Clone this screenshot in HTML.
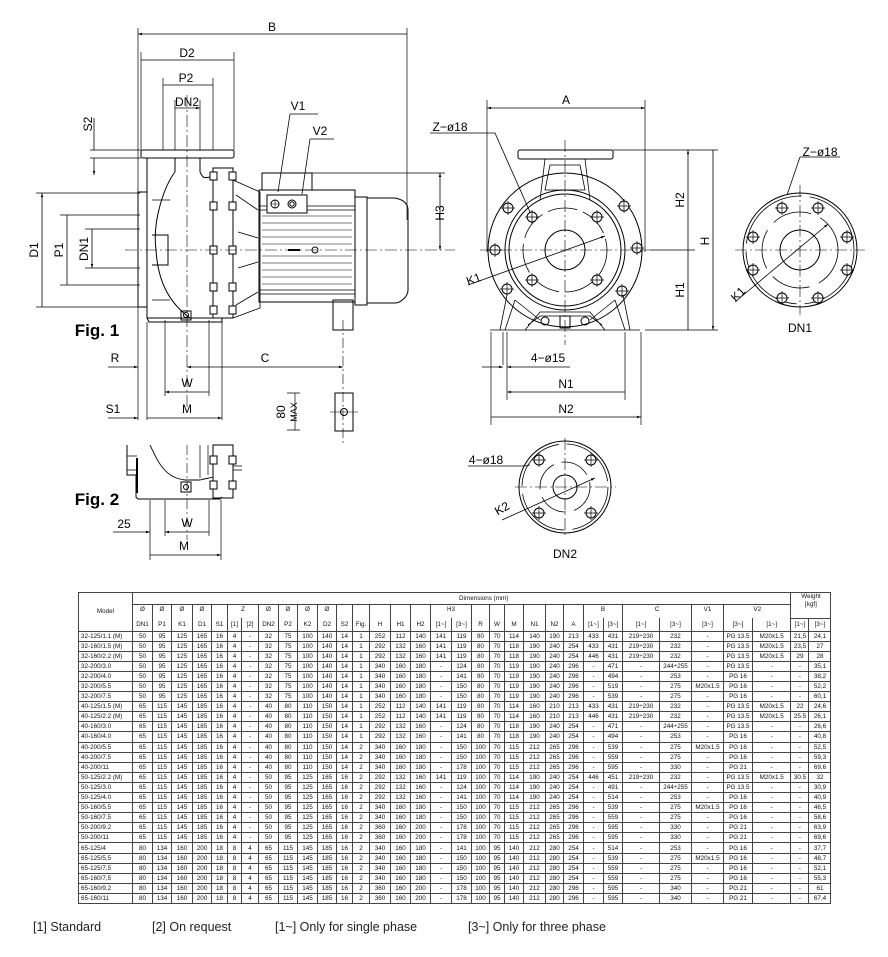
<!DOCTYPE html>
<html><head><meta charset="utf-8">
<style>
html,body{margin:0;padding:0;background:#fff;}
body{width:888px;height:957px;position:relative;overflow:hidden;font-family:"Liberation Sans",Arial,sans-serif;}
svg{position:absolute;left:0;top:0;}
table{position:absolute;left:78px;top:592px;border-collapse:collapse;table-layout:fixed;width:752px;font-size:6.3px;color:#111;}
td{border:1px solid #444;text-align:center;padding:0;white-space:nowrap;overflow:hidden;line-height:9px;height:9.1px;}
td.m{text-align:left;padding-left:2px;}
tr.h1 td{height:11px;}
tr.h2 td{height:13px;border-bottom:none;vertical-align:top;}
tr.h3 td{height:12px;border-top:none;}
.foot{position:absolute;top:920px;font-size:12.5px;color:#222;}
</style></head><body>
<svg width="888" height="590" viewBox="0 0 888 590" font-family="Liberation Sans, Arial, sans-serif">
<defs>
<marker id="a" viewBox="0 0 10 10" refX="10" refY="5" markerWidth="7" markerHeight="5" orient="auto-start-reverse"><path d="M0,2 L10,5 L0,8z" fill="#000"/></marker>
<symbol id="b" viewBox="-7 -7 14 14" overflow="visible"><circle r="5" fill="#fff" stroke="#000" stroke-width="1"/><path d="M-7,0H7M0,-7V7" stroke="#000" stroke-width="0.7"/></symbol>
</defs>
<g stroke="#000" fill="none" stroke-width="1">
<!-- ===== FIG 1 dims ===== -->
<path d="M138,28V420M407,28V220M141,52V150M234,52V150M163,78V150M213,78V150M175,100V150M200,100V150" stroke-width="0.7"/>
<path d="M138,34H407M141,60H234M163,85H213M175,108H200" marker-start="url(#a)" marker-end="url(#a)" stroke-width="0.8"/>
<path d="M90,150H141M90,158H141M36,193H140M60,215H140M85,229H140M85,268H140M60,285H140M36,307H140" stroke-width="0.7"/>
<path d="M94,118V150M94,158V175" marker-end="url(#a)" stroke-width="0.8"/>
<path d="M42,193V307M67,215V285M92,229V268" marker-start="url(#a)" marker-end="url(#a)" stroke-width="0.8"/>
<rect x="141" y="150" width="93" height="8" rx="2"/>
<path d="M147,158V318H213M147,318L149,322H222V318"/>
<path d="M175,158V172M200,158V172M175,172C165,185 152,220 156,250C158,285 172,305 190,318M200,172C205,182 205,175 213,178"/>
<rect x="138" y="192" width="9" height="115"/>
<path d="M152,235H168V265H152" />
<path d="M152,200H170M152,300H170" stroke-width="0.7"/>
<rect x="213" y="168" width="20" height="150"/>
<g fill="#fff"><rect x="210" y="172" width="7" height="8"/><rect x="229" y="172" width="7" height="8"/><rect x="210" y="202" width="7" height="8"/><rect x="229" y="202" width="7" height="8"/><rect x="210" y="246" width="7" height="8"/><rect x="229" y="246" width="7" height="8"/><rect x="210" y="283" width="7" height="8"/><rect x="229" y="283" width="7" height="8"/><rect x="210" y="306" width="7" height="8"/><rect x="229" y="306" width="7" height="8"/></g>
<rect x="181" y="311" width="10" height="9"/><circle cx="186" cy="315" r="2.5"/>
<path d="M233,180L260,192V308L233,318M236,195L258,210M236,305L258,292M238,232L258,238M238,268L258,262" stroke-width="0.8"/>
<rect x="259" y="190" width="96" height="112"/>
<path d="M259,206H355M259,210H355M259,290H355M259,294H355" stroke-width="0.8"/>
<path d="M262,216H352M262,223H352M262,230H352M262,237H352M262,244H352M262,256H352M262,263H352M262,270H352M262,277H352M262,284H352" stroke-width="0.6"/>
<rect x="262" y="173" width="50" height="17"/>
<rect x="267" y="195" width="40" height="18" fill="#fff"/>
<circle cx="275" cy="204" r="4"/><path d="M271,204H279M275,200V208" stroke-width="0.6"/>
<circle cx="292" cy="204" r="4"/><circle cx="292" cy="204" r="2.2"/>
<circle cx="315" cy="250" r="3"/><path d="M288,250H300" stroke-width="2"/>
<rect x="355" y="197" width="12" height="108"/>
<path d="M367,198H395C405,200 408,205 408,210V290C408,297 400,303 395,303H367"/>
<rect x="333" y="300" width="20" height="30"/>
<path d="M312,173H445" stroke-width="0.7"/>
<path d="M125,250H455" stroke-width="0.6" stroke-dasharray="12,3,2,3"/>
<path d="M187,95V410" stroke-width="0.6" stroke-dasharray="12,3,2,3"/>
<path d="M343,320V445" stroke-width="0.6" stroke-dasharray="10,3,2,3"/>
<path d="M440,173V250" marker-start="url(#a)" marker-end="url(#a)" stroke-width="0.8"/>
<path d="M290,114H318M290,114L278,192M310,139H334M310,139L302,194" stroke-width="0.8"/>
<path d="M147,322V420M165,320V396M209,320V396M222,322V420" stroke-width="0.7"/>
<path d="M108,367H138" marker-end="url(#a)" stroke-width="0.8"/>
<path d="M187,367H343" marker-start="url(#a)" marker-end="url(#a)" stroke-width="0.8"/>
<path d="M165,392H209M147,418H222" marker-start="url(#a)" marker-end="url(#a)" stroke-width="0.8"/>
<path d="M108,418H138" marker-end="url(#a)" stroke-width="0.8"/>
<rect x="335" y="393" width="18" height="38"/><circle cx="344" cy="412" r="3.5"/><path d="M330,412H358" stroke-width="0.6"/>
<path d="M287,393H300M287,430H300M295,393V430" stroke-width="0.7"/>
<!-- ===== FIG 2 ===== -->
<path d="M127,445V475H136V497L138,499H220L222,497"/>
<path d="M137,458V493" stroke-width="2"/>
<path d="M127,456H137M127,470H137" stroke-width="0.7"/>
<path d="M150,445C158,462 165,478 185,480H200C208,478 210,478 213,477" stroke-width="0.9"/>
<path d="M200,445V478M208,445V475" stroke-width="0.7"/>
<rect x="213" y="445" width="20" height="53"/>
<g fill="#fff"><rect x="210" y="456" width="7" height="8"/><rect x="229" y="456" width="7" height="8"/><rect x="210" y="481" width="7" height="8"/><rect x="229" y="481" width="7" height="8"/></g>
<path d="M233,466H242M233,470H242" stroke-width="0.7"/>
<rect x="181" y="482" width="10" height="10"/><circle cx="186" cy="487" r="2.5"/>
<path d="M150,500V560M165,500V536M209,500V536M221,500V560" stroke-width="0.7"/>
<path d="M187,445V540" stroke-width="0.6" stroke-dasharray="10,3,2,3"/>
<path d="M165,532H209M150,555H221" marker-start="url(#a)" marker-end="url(#a)" stroke-width="0.8"/>
<path d="M113,532H150" marker-end="url(#a)" stroke-width="0.8"/>
<!-- ===== FRONT VIEW ===== -->
<path d="M487,100V252M645,100V252" stroke-width="0.7"/>
<path d="M487,108H645" marker-start="url(#a)" marker-end="url(#a)" stroke-width="0.8"/>
<rect x="518" y="150" width="95" height="9" rx="2"/>
<path d="M545,159L540,200M585,159L590,200M550,165L545,190H585L580,165Z" stroke-width="0.8"/>
<circle cx="565" cy="250" r="77"/>
<circle cx="565" cy="250" r="60"/>
<circle cx="565" cy="250" r="56"/>
<circle cx="565" cy="250" r="42" stroke-dasharray="30,6" stroke-width="0.8"/>
<circle cx="565" cy="250" r="20"/>
<use href="#b" x="501" y="201" width="14" height="14"/><use href="#b" x="617" y="199" width="14" height="14"/>
<use href="#b" x="488" y="243" width="14" height="14"/><use href="#b" x="630" y="241" width="14" height="14"/>
<use href="#b" x="500" y="282" width="14" height="14"/><use href="#b" x="615" y="284" width="14" height="14"/>
<use href="#b" x="525" y="210" width="14" height="14"/><use href="#b" x="590" y="210" width="14" height="14"/>
<use href="#b" x="525" y="273" width="14" height="14"/><use href="#b" x="590" y="273" width="14" height="14"/>
<path d="M490,330H640M500,330L507,295M505,330L515,300M630,330L623,295M625,330L615,300M515,300L540,320M615,300L590,320M525,330L540,312H590L605,330M528,325L540,316H590L602,325" stroke-width="0.8"/>
<rect x="560" y="316" width="10" height="12"/>
<circle cx="545" cy="321" r="4"/><circle cx="585" cy="321" r="4"/>
<path d="M480,250H650M565,140V345" stroke-width="0.6" stroke-dasharray="12,3,2,3"/>
<path d="M468,285L605,236" stroke-width="0.8" marker-end="url(#a)"/>
<path d="M430,133H495L530,212" stroke-width="0.8"/>
<path d="M613,150H718M650,250H695M645,330H718" stroke-width="0.7"/>
<path d="M688,150V250M688,250V330M713,150V330" marker-start="url(#a)" marker-end="url(#a)" stroke-width="0.8"/>
<path d="M491,332V425M507,332V400M503,332V365M641,332V425M625,332V400" stroke-width="0.7"/>
<path d="M482,367H503" marker-end="url(#a)" stroke-width="0.8"/>
<path d="M528,367H507" marker-end="url(#a)" stroke-width="0.8"/><path d="M528,367H570" stroke-width="0.8"/>
<path d="M507,392H625M491,417H641" marker-start="url(#a)" marker-end="url(#a)" stroke-width="0.8"/>
<!-- DN1 flange -->
<circle cx="800" cy="250" r="57"/>
<circle cx="800" cy="250" r="54" stroke-dasharray="80,8" stroke-width="0.8"/>
<circle cx="800" cy="250" r="38" stroke-dasharray="40,10" stroke-width="0.8"/>
<circle cx="800" cy="250" r="20"/>
<path d="M735,250H865M800,185V315" stroke-width="0.6" stroke-dasharray="12,3,2,3"/>
<use href="#b" x="775" y="201" width="14" height="14"/><use href="#b" x="811" y="201" width="14" height="14"/>
<use href="#b" x="746" y="230" width="14" height="14"/><use href="#b" x="840" y="230" width="14" height="14"/>
<use href="#b" x="746" y="263" width="14" height="14"/><use href="#b" x="840" y="263" width="14" height="14"/>
<use href="#b" x="775" y="291" width="14" height="14"/><use href="#b" x="811" y="291" width="14" height="14"/>
<path d="M735,302L828,224" stroke-width="0.8" marker-end="url(#a)"/>
<path d="M800,157H840M800,157L787,195" stroke-width="0.8"/>
<!-- DN2 flange -->
<circle cx="565" cy="487" r="46"/>
<circle cx="565" cy="487" r="43" stroke-dasharray="60,8" stroke-width="0.8"/>
<circle cx="565" cy="487" r="25" stroke-dasharray="30,8" stroke-width="0.8"/>
<circle cx="565" cy="487" r="12"/>
<path d="M515,487H616M565,438V535" stroke-width="0.6" stroke-dasharray="12,3,2,3"/>
<use href="#b" x="532" y="453" width="14" height="14"/><use href="#b" x="584" y="453" width="14" height="14"/>
<use href="#b" x="532" y="506" width="14" height="14"/><use href="#b" x="584" y="506" width="14" height="14"/>
<path d="M502,520L595,478" stroke-width="0.8" marker-end="url(#a)"/>
<path d="M468,466H525L530,465" stroke-width="0.8"/>
</g>
<g font-size="12" fill="#000" text-anchor="middle">
<text x="272" y="31">B</text><text x="187" y="57">D2</text><text x="186" y="82">P2</text><text x="187" y="106">DN2</text>
<text x="298" y="110">V1</text><text x="320" y="135">V2</text>
<text transform="translate(92,124) rotate(-90)">S2</text>
<text transform="translate(38,250) rotate(-90)">D1</text>
<text transform="translate(63,250) rotate(-90)">P1</text>
<text transform="translate(88,249) rotate(-90)">DN1</text>
<text transform="translate(444,213) rotate(-90)">H3</text>
<text x="115" y="362">R</text><text x="265" y="362">C</text><text x="187" y="387">W</text>
<text x="113" y="413">S1</text><text x="187" y="413">M</text>
<text transform="translate(285,412) rotate(-90)">80</text>
<text transform="translate(297,412) rotate(-90)" font-size="9">MAX</text>
<text x="187" y="527">W</text><text x="184" y="550">M</text><text x="124" y="528">25</text>
<text x="566" y="104">A</text><text x="450" y="131">Z−ø18</text>
<text transform="translate(475,283) rotate(-20)">K1</text>
<text transform="translate(684,200) rotate(-90)">H2</text>
<text transform="translate(709,241) rotate(-90)">H</text>
<text transform="translate(684,290) rotate(-90)">H1</text>
<text x="548" y="362">4−ø15</text><text x="566" y="388">N1</text><text x="566" y="413">N2</text>
<text x="820" y="156">Z−ø18</text>
<text transform="translate(741,297) rotate(-45)">K1</text>
<text x="800" y="332">DN1</text>
<text x="486" y="464">4−ø18</text>
<text transform="translate(504,512) rotate(-30)">K2</text>
<text x="565" y="558">DN2</text>
<text x="97" y="336" font-size="17" font-weight="bold">Fig. 1</text>
<text x="97" y="505" font-size="17" font-weight="bold">Fig. 2</text>
</g>
</svg>

<table>
<colgroup><col style="width:54px"><col style="width:20px"><col style="width:19px"><col style="width:21px"><col style="width:19px"><col style="width:16px"><col style="width:14px"><col style="width:17px"><col style="width:20px"><col style="width:19px"><col style="width:20px"><col style="width:19px"><col style="width:16px"><col style="width:17px"><col style="width:21px"><col style="width:20px"><col style="width:20px"><col style="width:21px"><col style="width:20px"><col style="width:18px"><col style="width:15px"><col style="width:19px"><col style="width:22px"><col style="width:18px"><col style="width:20px"><col style="width:20px"><col style="width:19px"><col style="width:37px"><col style="width:32px"><col style="width:32px"><col style="width:29px"><col style="width:38px"><col style="width:18px"><col style="width:22px"></colgroup>
<tr class="h1"><td rowspan="3">Model</td><td colspan="31" style="text-align:left;padding-left:326px;border-bottom:none">Dimensions (mm)</td><td colspan="2" rowspan="2" style="vertical-align:top;white-space:normal;line-height:8px">Weight<br>[kgf]</td></tr>
<tr class="h2"><td>Ø</td><td>Ø</td><td>Ø</td><td>Ø</td><td></td><td colspan="2">Z</td><td>Ø</td><td>Ø</td><td>Ø</td><td>Ø</td><td></td><td></td><td></td><td></td><td></td><td colspan="2">H3</td><td></td><td></td><td></td><td></td><td></td><td></td><td colspan="2">B</td><td colspan="2">C</td><td>V1</td><td colspan="2">V2</td></tr>
<tr class="h3"><td>DN1</td><td>P1</td><td>K1</td><td>D1</td><td>S1</td><td>[1]</td><td>[2]</td><td>DN2</td><td>P2</td><td>K2</td><td>D2</td><td>S2</td><td>Fig.</td><td>H</td><td>H1</td><td>H2</td><td>[1~]</td><td>[3~]</td><td>R</td><td>W</td><td>M</td><td>N1</td><td>N2</td><td>A</td><td>[1~]</td><td>[3~]</td><td>[1~]</td><td>[3~]</td><td>[3~]</td><td>[3~]</td><td>[1~]</td><td>[1~]</td><td>[3~]</td></tr>
<tr><td class="m">32-125/1.1 (M)</td><td>50</td><td>95</td><td>125</td><td>165</td><td>16</td><td>4</td><td>-</td><td>32</td><td>75</td><td>100</td><td>140</td><td>14</td><td>1</td><td>252</td><td>112</td><td>140</td><td>141</td><td>119</td><td>80</td><td>70</td><td>114</td><td>140</td><td>190</td><td>213</td><td>433</td><td>431</td><td>219÷230</td><td>232</td><td>-</td><td>PG 13.5</td><td>M20x1.5</td><td>21,5</td><td>24,1</td></tr>
<tr><td class="m">32-160/1.5 (M)</td><td>50</td><td>95</td><td>125</td><td>165</td><td>16</td><td>4</td><td>-</td><td>32</td><td>75</td><td>100</td><td>140</td><td>14</td><td>1</td><td>292</td><td>132</td><td>160</td><td>141</td><td>119</td><td>80</td><td>70</td><td>118</td><td>190</td><td>240</td><td>254</td><td>433</td><td>431</td><td>219÷230</td><td>232</td><td>-</td><td>PG 13.5</td><td>M20x1.5</td><td>23,5</td><td>27</td></tr>
<tr><td class="m">32-160/2.2 (M)</td><td>50</td><td>95</td><td>125</td><td>165</td><td>16</td><td>4</td><td>-</td><td>32</td><td>75</td><td>100</td><td>140</td><td>14</td><td>1</td><td>292</td><td>132</td><td>160</td><td>141</td><td>119</td><td>80</td><td>70</td><td>118</td><td>190</td><td>240</td><td>254</td><td>446</td><td>431</td><td>219÷230</td><td>232</td><td>-</td><td>PG 13.5</td><td>M20x1.5</td><td>29</td><td>28</td></tr>
<tr><td class="m">32-200/3.0</td><td>50</td><td>95</td><td>125</td><td>165</td><td>16</td><td>4</td><td>-</td><td>32</td><td>75</td><td>100</td><td>140</td><td>14</td><td>1</td><td>340</td><td>160</td><td>180</td><td>-</td><td>124</td><td>80</td><td>70</td><td>119</td><td>190</td><td>240</td><td>296</td><td>-</td><td>471</td><td>-</td><td>244÷255</td><td>-</td><td>PG 13.5</td><td>-</td><td>-</td><td>35,1</td></tr>
<tr><td class="m">32-200/4.0</td><td>50</td><td>95</td><td>125</td><td>165</td><td>16</td><td>4</td><td>-</td><td>32</td><td>75</td><td>100</td><td>140</td><td>14</td><td>1</td><td>340</td><td>160</td><td>180</td><td>-</td><td>141</td><td>80</td><td>70</td><td>119</td><td>190</td><td>240</td><td>296</td><td>-</td><td>494</td><td>-</td><td>253</td><td>-</td><td>PG 16</td><td>-</td><td>-</td><td>38,2</td></tr>
<tr><td class="m">32-200/5.5</td><td>50</td><td>95</td><td>125</td><td>165</td><td>16</td><td>4</td><td>-</td><td>32</td><td>75</td><td>100</td><td>140</td><td>14</td><td>1</td><td>340</td><td>160</td><td>180</td><td>-</td><td>150</td><td>80</td><td>70</td><td>119</td><td>190</td><td>240</td><td>296</td><td>-</td><td>519</td><td>-</td><td>275</td><td>M20x1.5</td><td>PG 16</td><td>-</td><td>-</td><td>52,2</td></tr>
<tr><td class="m">32-200/7.5</td><td>50</td><td>95</td><td>125</td><td>165</td><td>16</td><td>4</td><td>-</td><td>32</td><td>75</td><td>100</td><td>140</td><td>14</td><td>1</td><td>340</td><td>160</td><td>180</td><td>-</td><td>150</td><td>80</td><td>70</td><td>119</td><td>190</td><td>240</td><td>296</td><td>-</td><td>539</td><td>-</td><td>275</td><td>-</td><td>PG 16</td><td>-</td><td>-</td><td>60,1</td></tr>
<tr><td class="m">40-125/1.5 (M)</td><td>65</td><td>115</td><td>145</td><td>185</td><td>16</td><td>4</td><td>-</td><td>40</td><td>80</td><td>110</td><td>150</td><td>14</td><td>1</td><td>252</td><td>112</td><td>140</td><td>141</td><td>119</td><td>80</td><td>70</td><td>114</td><td>160</td><td>210</td><td>213</td><td>433</td><td>431</td><td>219÷230</td><td>232</td><td>-</td><td>PG 13.5</td><td>M20x1.5</td><td>22</td><td>24,6</td></tr>
<tr><td class="m">40-125/2.2 (M)</td><td>65</td><td>115</td><td>145</td><td>185</td><td>16</td><td>4</td><td>-</td><td>40</td><td>80</td><td>110</td><td>150</td><td>14</td><td>1</td><td>252</td><td>112</td><td>140</td><td>141</td><td>119</td><td>80</td><td>70</td><td>114</td><td>160</td><td>210</td><td>213</td><td>446</td><td>431</td><td>219÷230</td><td>232</td><td>-</td><td>PG 13.5</td><td>M20x1.5</td><td>25.5</td><td>26,1</td></tr>
<tr><td class="m">40-160/3.0</td><td>65</td><td>115</td><td>145</td><td>185</td><td>16</td><td>4</td><td>-</td><td>40</td><td>80</td><td>110</td><td>150</td><td>14</td><td>1</td><td>292</td><td>132</td><td>160</td><td>-</td><td>124</td><td>80</td><td>70</td><td>118</td><td>190</td><td>240</td><td>254</td><td>-</td><td>471</td><td>-</td><td>244÷255</td><td>-</td><td>PG 13.5</td><td>-</td><td>-</td><td>26,6</td></tr>
<tr><td class="m">40-160/4.0</td><td>65</td><td>115</td><td>145</td><td>185</td><td>16</td><td>4</td><td>-</td><td>40</td><td>80</td><td>110</td><td>150</td><td>14</td><td>1</td><td>292</td><td>132</td><td>160</td><td>-</td><td>141</td><td>80</td><td>70</td><td>118</td><td>190</td><td>240</td><td>254</td><td>-</td><td>494</td><td>-</td><td>253</td><td>-</td><td>PG 16</td><td>-</td><td>-</td><td>40,8</td></tr>
<tr><td class="m">40-200/5.5</td><td>65</td><td>115</td><td>145</td><td>185</td><td>16</td><td>4</td><td>-</td><td>40</td><td>80</td><td>110</td><td>150</td><td>14</td><td>2</td><td>340</td><td>160</td><td>180</td><td>-</td><td>150</td><td>100</td><td>70</td><td>115</td><td>212</td><td>265</td><td>296</td><td>-</td><td>539</td><td>-</td><td>275</td><td>M20x1.5</td><td>PG 16</td><td>-</td><td>-</td><td>52,5</td></tr>
<tr><td class="m">40-200/7.5</td><td>65</td><td>115</td><td>145</td><td>185</td><td>16</td><td>4</td><td>-</td><td>40</td><td>80</td><td>110</td><td>150</td><td>14</td><td>2</td><td>340</td><td>160</td><td>180</td><td>-</td><td>150</td><td>100</td><td>70</td><td>115</td><td>212</td><td>265</td><td>296</td><td>-</td><td>559</td><td>-</td><td>275</td><td>-</td><td>PG 16</td><td>-</td><td>-</td><td>59,3</td></tr>
<tr><td class="m">40-200/11</td><td>65</td><td>115</td><td>145</td><td>185</td><td>16</td><td>4</td><td>-</td><td>40</td><td>80</td><td>110</td><td>150</td><td>14</td><td>2</td><td>340</td><td>160</td><td>180</td><td>-</td><td>178</td><td>100</td><td>70</td><td>115</td><td>212</td><td>265</td><td>296</td><td>-</td><td>595</td><td>-</td><td>330</td><td>-</td><td>PG 21</td><td>-</td><td>-</td><td>69,6</td></tr>
<tr><td class="m">50-125/2.2 (M)</td><td>65</td><td>115</td><td>145</td><td>185</td><td>16</td><td>4</td><td>-</td><td>50</td><td>95</td><td>125</td><td>165</td><td>16</td><td>2</td><td>292</td><td>132</td><td>160</td><td>141</td><td>119</td><td>100</td><td>70</td><td>114</td><td>190</td><td>240</td><td>254</td><td>446</td><td>451</td><td>219÷230</td><td>232</td><td>-</td><td>PG 13.5</td><td>M20x1.5</td><td>30.5</td><td>32</td></tr>
<tr><td class="m">50-125/3.0</td><td>65</td><td>115</td><td>145</td><td>185</td><td>16</td><td>4</td><td>-</td><td>50</td><td>95</td><td>125</td><td>165</td><td>16</td><td>2</td><td>292</td><td>132</td><td>160</td><td>-</td><td>124</td><td>100</td><td>70</td><td>114</td><td>190</td><td>240</td><td>254</td><td>-</td><td>491</td><td>-</td><td>244÷255</td><td>-</td><td>PG 13.5</td><td>-</td><td>-</td><td>30,9</td></tr>
<tr><td class="m">50-125/4.0</td><td>65</td><td>115</td><td>145</td><td>185</td><td>16</td><td>4</td><td>-</td><td>50</td><td>95</td><td>125</td><td>165</td><td>16</td><td>2</td><td>292</td><td>132</td><td>160</td><td>-</td><td>141</td><td>100</td><td>70</td><td>114</td><td>190</td><td>240</td><td>254</td><td>-</td><td>514</td><td>-</td><td>253</td><td>-</td><td>PG 16</td><td>-</td><td>-</td><td>40,9</td></tr>
<tr><td class="m">50-160/5.5</td><td>65</td><td>115</td><td>145</td><td>185</td><td>16</td><td>4</td><td>-</td><td>50</td><td>95</td><td>125</td><td>165</td><td>16</td><td>2</td><td>340</td><td>160</td><td>180</td><td>-</td><td>150</td><td>100</td><td>70</td><td>115</td><td>212</td><td>265</td><td>296</td><td>-</td><td>539</td><td>-</td><td>275</td><td>M20x1.5</td><td>PG 16</td><td>-</td><td>-</td><td>46,5</td></tr>
<tr><td class="m">50-160/7.5</td><td>65</td><td>115</td><td>145</td><td>185</td><td>16</td><td>4</td><td>-</td><td>50</td><td>95</td><td>125</td><td>165</td><td>16</td><td>2</td><td>340</td><td>160</td><td>180</td><td>-</td><td>150</td><td>100</td><td>70</td><td>115</td><td>212</td><td>265</td><td>296</td><td>-</td><td>559</td><td>-</td><td>275</td><td>-</td><td>PG 16</td><td>-</td><td>-</td><td>58,6</td></tr>
<tr><td class="m">50-200/9.2</td><td>65</td><td>115</td><td>145</td><td>185</td><td>16</td><td>4</td><td>-</td><td>50</td><td>95</td><td>125</td><td>165</td><td>16</td><td>2</td><td>360</td><td>160</td><td>200</td><td>-</td><td>178</td><td>100</td><td>70</td><td>115</td><td>212</td><td>265</td><td>296</td><td>-</td><td>595</td><td>-</td><td>330</td><td>-</td><td>PG 21</td><td>-</td><td>-</td><td>63,9</td></tr>
<tr><td class="m">50-200/11</td><td>65</td><td>115</td><td>145</td><td>185</td><td>16</td><td>4</td><td>-</td><td>50</td><td>95</td><td>125</td><td>165</td><td>16</td><td>2</td><td>360</td><td>160</td><td>200</td><td>-</td><td>178</td><td>100</td><td>70</td><td>115</td><td>212</td><td>265</td><td>296</td><td>-</td><td>595</td><td>-</td><td>330</td><td>-</td><td>PG 21</td><td>-</td><td>-</td><td>69,6</td></tr>
<tr><td class="m">65-125/4</td><td>80</td><td>134</td><td>160</td><td>200</td><td>18</td><td>8</td><td>4</td><td>65</td><td>115</td><td>145</td><td>185</td><td>16</td><td>2</td><td>340</td><td>160</td><td>180</td><td>-</td><td>141</td><td>100</td><td>95</td><td>140</td><td>212</td><td>280</td><td>254</td><td>-</td><td>514</td><td>-</td><td>253</td><td>-</td><td>PG 16</td><td>-</td><td>-</td><td>37,7</td></tr>
<tr><td class="m">65-125/5,5</td><td>80</td><td>134</td><td>160</td><td>200</td><td>18</td><td>8</td><td>4</td><td>65</td><td>115</td><td>145</td><td>185</td><td>16</td><td>2</td><td>340</td><td>160</td><td>180</td><td>-</td><td>150</td><td>100</td><td>95</td><td>140</td><td>212</td><td>280</td><td>254</td><td>-</td><td>539</td><td>-</td><td>275</td><td>M20x1.5</td><td>PG 16</td><td>-</td><td>-</td><td>48,7</td></tr>
<tr><td class="m">65-125/7,5</td><td>80</td><td>134</td><td>160</td><td>200</td><td>18</td><td>8</td><td>4</td><td>65</td><td>115</td><td>145</td><td>185</td><td>16</td><td>2</td><td>340</td><td>160</td><td>180</td><td>-</td><td>150</td><td>100</td><td>95</td><td>140</td><td>212</td><td>280</td><td>254</td><td>-</td><td>559</td><td>-</td><td>275</td><td>-</td><td>PG 16</td><td>-</td><td>-</td><td>52,1</td></tr>
<tr><td class="m">65-160/7,5</td><td>80</td><td>134</td><td>160</td><td>200</td><td>18</td><td>8</td><td>4</td><td>65</td><td>115</td><td>145</td><td>185</td><td>16</td><td>2</td><td>340</td><td>160</td><td>180</td><td>-</td><td>150</td><td>100</td><td>95</td><td>140</td><td>212</td><td>280</td><td>254</td><td>-</td><td>559</td><td>-</td><td>275</td><td>-</td><td>PG 16</td><td>-</td><td>-</td><td>55,3</td></tr>
<tr><td class="m">65-160/9,2</td><td>80</td><td>134</td><td>160</td><td>200</td><td>18</td><td>8</td><td>4</td><td>65</td><td>115</td><td>145</td><td>185</td><td>16</td><td>2</td><td>360</td><td>160</td><td>200</td><td>-</td><td>178</td><td>100</td><td>95</td><td>140</td><td>212</td><td>280</td><td>296</td><td>-</td><td>595</td><td>-</td><td>340</td><td>-</td><td>PG 21</td><td>-</td><td>-</td><td>61</td></tr>
<tr><td class="m">65-160/11</td><td>80</td><td>134</td><td>160</td><td>200</td><td>18</td><td>8</td><td>4</td><td>65</td><td>115</td><td>145</td><td>185</td><td>16</td><td>2</td><td>360</td><td>160</td><td>200</td><td>-</td><td>178</td><td>100</td><td>95</td><td>140</td><td>212</td><td>280</td><td>296</td><td>-</td><td>595</td><td>-</td><td>340</td><td>-</td><td>PG 21</td><td>-</td><td>-</td><td>67,4</td></tr>
</table>

<div class="foot" style="left:33px">[1] Standard</div>
<div class="foot" style="left:152px">[2] On request</div>
<div class="foot" style="left:275px">[1~] Only for single phase</div>
<div class="foot" style="left:468px">[3~] Only for three phase</div>
</body></html>
